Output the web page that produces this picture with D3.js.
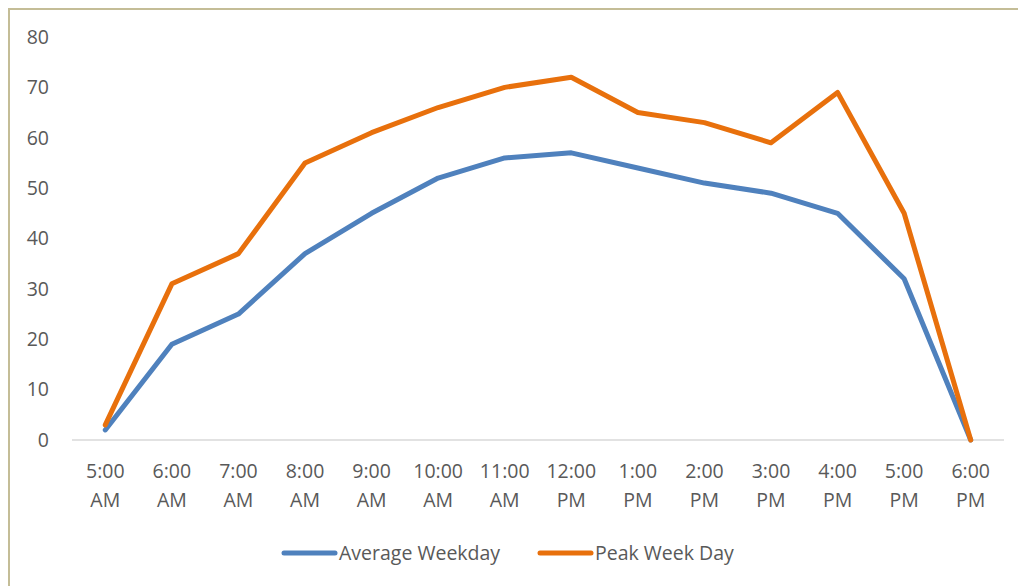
<!DOCTYPE html>
<html>
<head>
<meta charset="utf-8">
<script src="https://cdn.jsdelivr.net/npm/d3@7"></script>
<style>
  html, body { margin: 0; padding: 0; background: #fff; }
  svg { display: block; }
  text { font-family: "Open Sans", "Liberation Sans", sans-serif; fill: #595959; }
</style>
</head>
<body>
<svg id="chart" width="1018" height="586"></svg>
<script>
const categories = ["5:00 AM", "6:00 AM", "7:00 AM", "8:00 AM", "9:00 AM", "10:00 AM", "11:00 AM",
                    "12:00 PM", "1:00 PM", "2:00 PM", "3:00 PM", "4:00 PM", "5:00 PM", "6:00 PM"];
const averageWeekday = [2, 19, 25, 37, 45, 52, 56, 57, 54, 51, 49, 45, 32, 0];
const peakWeekDay = [3, 31, 37, 55, 61, 66, 70, 72, 65, 63, 59, 69, 45, 0];
const yTicks = [0, 10, 20, 30, 40, 50, 60, 70, 80];

const series = [
  { name: "Average Weekday", values: averageWeekday, color: "#4f81bd" },
  { name: "Peak Week Day", values: peakWeekDay, color: "#e8700c" }
];

const fontSize = "19.5px";
const svg = d3.select("#chart");

// outer frame (left and top edges)
svg.append("path")
  .attr("d", "M9,586 V9 H1018")
  .attr("fill", "none")
  .attr("stroke", "#c4bd97")
  .attr("stroke-width", 2);

const x = d3.scaleBand().domain(categories).range([72, 1004]);
const y = d3.scaleLinear().domain([0, 80]).range([440, 37]);

// y axis labels
const yAxis = svg.append("g")
  .attr("transform", "translate(55,0)")
  .call(d3.axisLeft(y).tickValues(yTicks).tickSize(0).tickPadding(6));
yAxis.select(".domain").remove();
yAxis.selectAll("text").style("font-size", fontSize).attr("fill", "#595959");

// baseline
svg.append("line")
  .attr("x1", x.range()[0]).attr("x2", x.range()[1])
  .attr("y1", y(0)).attr("y2", y(0))
  .attr("stroke", "#d9d9d9").attr("stroke-width", 1.5);

// x axis labels, split onto two lines
const xAxis = svg.append("g");
xAxis.selectAll("text")
  .data(categories)
  .join("text")
  .attr("x", d => x(d) + x.bandwidth() / 2)
  .attr("text-anchor", "middle")
  .style("font-size", fontSize)
  .each(function(d) {
    const parts = d.split(" ");
    const t = d3.select(this);
    t.append("tspan").attr("x", x(d) + x.bandwidth() / 2).attr("y", 478).text(parts[0]);
    t.append("tspan").attr("x", x(d) + x.bandwidth() / 2).attr("y", 507).text(parts[1]);
  });

// lines
const line = d3.line()
  .x((d, i) => x(categories[i]) + x.bandwidth() / 2)
  .y(d => y(d));

svg.selectAll(".series")
  .data(series)
  .join("path")
  .attr("class", "series")
  .attr("d", d => line(d.values))
  .attr("fill", "none")
  .attr("stroke", d => d.color)
  .attr("stroke-width", 5)
  .attr("stroke-linejoin", "round")
  .attr("stroke-linecap", "round");

// legend
const legendX = [284, 540];
const legend = svg.selectAll(".legend")
  .data(series)
  .join("g")
  .attr("class", "legend")
  .attr("transform", (d, i) => `translate(${legendX[i]},553)`);
legend.append("line")
  .attr("x1", 0).attr("x2", 51)
  .attr("stroke", d => d.color)
  .attr("stroke-width", 5)
  .attr("stroke-linecap", "round");
legend.append("text")
  .attr("x", 55).attr("y", 7)
  .style("font-size", fontSize)
  .text(d => d.name);
</script>
</body>
</html>
